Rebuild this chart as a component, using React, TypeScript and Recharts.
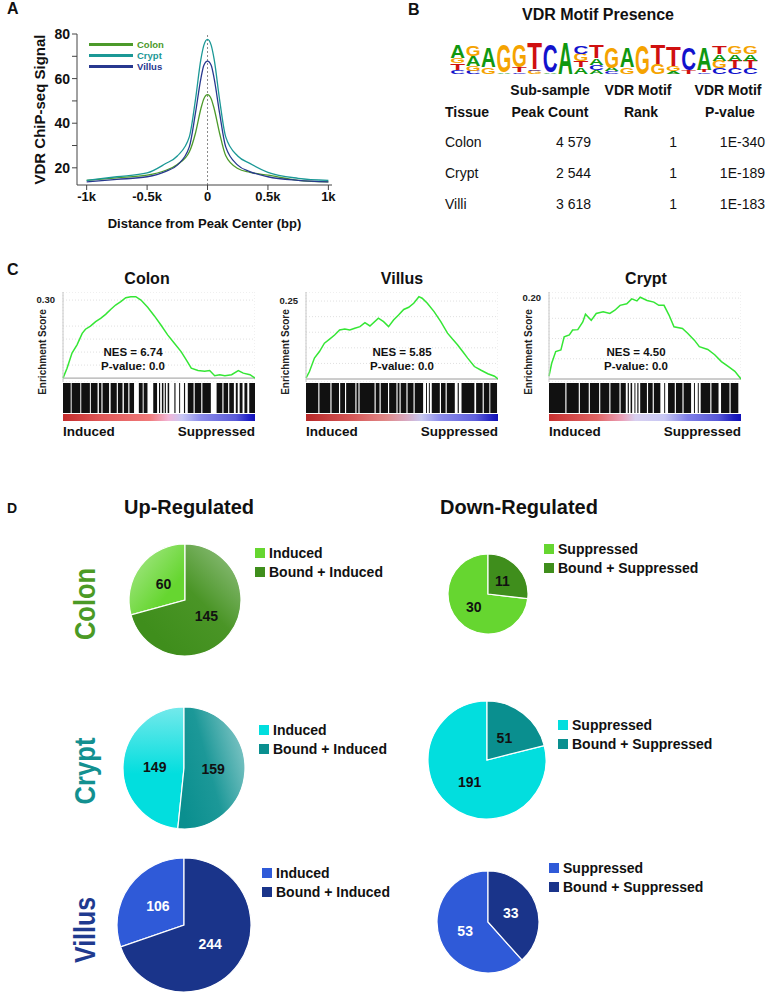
import React from 'react'
import {
  LineChart,
  Line,
  XAxis,
  YAxis,
  CartesianGrid,
  ReferenceLine,
  BarChart,
  Bar,
  PieChart,
  Pie,
  Cell,
} from 'recharts'

const FONT = '"Liberation Sans", Arial, Helvetica, sans-serif'

// ---------- Panel A: VDR ChIP-seq signal around peak centres
const distanceBp = [-1000, -750, -500, -350, -250, -150, -100, -55, -30, 0, 30, 55, 100, 150, 250, 350, 500, 750, 1000]
const colonSignal = [14.4, 15.5, 16.7, 18.8, 21.5, 27.2, 35.5, 46.5, 51, 52.8, 51, 46.5, 35.5, 25.5, 19.7, 18, 16.7, 14.4, 13.7]
const cryptSignal = [14.4, 16.0, 17.7, 21.8, 25.3, 34, 50.5, 68.6, 75, 77.6, 75, 68.6, 50.5, 34, 25.3, 22, 18, 15.3, 14.4]
const villusSignal = [13.7, 14.8, 16, 18.3, 21.2, 29.5, 44.5, 60, 66, 67.8, 66, 60, 44.5, 29.5, 21.2, 18.3, 16, 14.4, 13.7]
const distanceTicks = [-1000, -500, 0, 500, 1000]
const distanceTickLabels = ['-1k', '-0.5k', '0', '0.5k', '1k']
const signalTicks = [20, 30, 40, 50, 60, 70, 80]

const signalSeries = [
  { key: 'colon', name: 'Colon', color: '#4c9a2a' },
  { key: 'crypt', name: 'Crypt', color: '#1b9896' },
  { key: 'villus', name: 'Villus', color: '#27388f' },
]

// ---------- Panel B: motif table
const tissues = ['Colon', 'Crypt', 'Villi']
const peakCounts = ['4 579', '2 544', '3 618']
const motifRanks = ['1', '1', '1']
const motifPvalues = ['1E-340', '1E-189', '1E-183']

// logo columns, letters listed bottom -> top with their share of the column height
const motifColumns: [string, number][][] = [
  [['C', 0.13], ['T', 0.2], ['G', 0.17], ['A', 0.4]],
  [['C', 0.1], ['G', 0.15], ['A', 0.3], ['G', 0.3]],
  [['G', 0.2], ['A', 0.6]],
  [['A', 0.05], ['G', 0.85]],
  [['C', 0.05], ['T', 0.15], ['G', 0.7]],
  [['G', 0.1], ['C', 0.05], ['T', 0.8]],
  [['A', 0.05], ['C', 0.85]],
  [['A', 0.95]],
  [['A', 0.2], ['T', 0.2], ['G', 0.22], ['C', 0.25]],
  [['A', 0.12], ['C', 0.15], ['A', 0.2], ['T', 0.4]],
  [['C', 0.08], ['A', 0.1], ['G', 0.65]],
  [['G', 0.2], ['A', 0.6]],
  [['G', 0.9]],
  [['G', 0.3], ['T', 0.6]],
  [['A', 0.08], ['G', 0.15], ['T', 0.6]],
  [['T', 0.12], ['C', 0.7]],
  [['C', 0.05], ['T', 0.08], ['A', 0.7]],
  [['C', 0.18], ['G', 0.22], ['A', 0.2], ['T', 0.22]],
  [['C', 0.18], ['T', 0.22], ['A', 0.2], ['G', 0.22]],
  [['C', 0.18], ['T', 0.22], ['A', 0.2], ['G', 0.22]],
]
const letterColors: Record<string, string> = { A: '#109810', C: '#1212cc', G: '#f5a300', T: '#d01010' }

// ---------- Panel C: GSEA running enrichment scores (rank position 0..1)
const colonRank = [0, 0.021, 0.047, 0.073, 0.1, 0.117, 0.143, 0.17, 0.196, 0.222, 0.248, 0.274, 0.301, 0.327, 0.353, 0.379, 0.406, 0.441, 0.476, 0.51, 0.545, 0.58, 0.615, 0.642, 0.668, 0.703, 0.738, 0.764, 0.79, 0.816, 0.843, 0.878, 0.913, 0.939, 0.974, 1]
const colonES = [0, 0.038, 0.096, 0.128, 0.172, 0.188, 0.2, 0.217, 0.23, 0.245, 0.264, 0.281, 0.294, 0.309, 0.313, 0.313, 0.3, 0.272, 0.239, 0.204, 0.166, 0.134, 0.102, 0.07, 0.038, 0.029, 0.026, 0.029, 0.009, 0.013, 0.009, 0.013, 0.029, 0.019, 0.013, 0]
const villusRank = [0, 0.018, 0.044, 0.07, 0.096, 0.123, 0.149, 0.175, 0.202, 0.228, 0.254, 0.281, 0.307, 0.333, 0.377, 0.404, 0.43, 0.456, 0.482, 0.509, 0.535, 0.561, 0.588, 0.605, 0.632, 0.667, 0.702, 0.737, 0.763, 0.789, 0.816, 0.842, 0.877, 0.912, 0.947, 0.982, 1]
const villusES = [0.003, 0.024, 0.067, 0.088, 0.115, 0.128, 0.141, 0.157, 0.16, 0.157, 0.163, 0.168, 0.181, 0.17, 0.195, 0.184, 0.168, 0.189, 0.205, 0.223, 0.23, 0.243, 0.264, 0.259, 0.243, 0.216, 0.184, 0.147, 0.128, 0.11, 0.088, 0.067, 0.04, 0.028, 0.017, 0.009, 0]
const cryptRank = [0, 0.014, 0.035, 0.062, 0.079, 0.106, 0.123, 0.15, 0.176, 0.19, 0.22, 0.246, 0.282, 0.317, 0.343, 0.37, 0.405, 0.431, 0.458, 0.475, 0.511, 0.546, 0.572, 0.599, 0.625, 0.651, 0.695, 0.722, 0.757, 0.783, 0.827, 0.863, 0.898, 0.933, 0.968, 1]
const cryptES = [0.007, 0.039, 0.068, 0.072, 0.104, 0.109, 0.121, 0.122, 0.141, 0.16, 0.145, 0.162, 0.166, 0.162, 0.17, 0.182, 0.186, 0.198, 0.193, 0.202, 0.194, 0.19, 0.182, 0.182, 0.158, 0.129, 0.125, 0.113, 0.096, 0.08, 0.073, 0.06, 0.043, 0.031, 0.019, 0]

// gene hit blocks in the barcode strip (rank %, from..to)
const colonHits = [[0, 4], [4.5, 9], [9.5, 14], [14.5, 18], [18.7, 20], [20.6, 24], [24.8, 28], [28.6, 31], [31.7, 34], [34.6, 37], [39.5, 41.5], [42, 44], [47, 49], [50, 50.6], [51.5, 52.3], [53, 53.6], [54.5, 55.3], [58, 58.6], [60.5, 61], [63, 63.6], [65, 68], [68.6, 72], [72.6, 77], [80, 83], [83.6, 86], [86.6, 89], [90, 91], [92, 93.5], [94.5, 96], [97, 100]]
const villusHits = [[0, 6.4], [7, 12.7], [13.3, 17.2], [17.8, 20.3], [20.9, 25.7], [26.3, 27.3], [27.9, 35.7], [36.3, 38.3], [38.9, 42.7], [43.3, 47.1], [47.7, 48.7], [49.3, 52.3], [52.9, 56], [56.6, 61], [62.5, 63], [64, 64.5], [65.5, 69.7], [70.3, 72.7], [73.3, 77.5], [79, 79.6], [81, 87.7], [88.6, 92], [92.6, 95.5], [96, 99.5]]
const cryptHits = [[0, 8.5], [9.1, 15.5], [16.1, 20.7], [21.3, 26.1], [26.7, 31.4], [32, 36.7], [37.3, 40], [41, 41.6], [42.5, 43.3], [44.5, 45], [46, 46.6], [47.5, 51], [51.6, 54], [54.6, 58], [60, 60.5], [62, 65.5], [66.1, 69.5], [70.1, 74], [75.5, 76], [77.5, 78], [79, 84], [84.6, 88.3], [89.6, 94], [94.6, 98.6]]

const gseaGridX = [0.12, 0.24, 0.36, 0.48, 0.6, 0.72, 0.84, 0.96]

// ---------- Panel D: gene counts
const upNames = ['Induced', 'Bound + Induced']
const downNames = ['Suppressed', 'Bound + Suppressed']
const colonUp = [60, 145]
const colonDown = [30, 11]
const cryptUp = [149, 159]
const cryptDown = [191, 51]
const villusUp = [106, 244]
const villusDown = [53, 33]

const colonColors = ['#66d630', '#3f8e1c']
const cryptColors = ['#02dede', '#0a8f8f']
const villusColors = ['#2f5ad8', '#1a348a']

type TxtProps = { x: number; y: number; size: number; bold?: boolean; color?: string; align?: 'left' | 'center' | 'right'; children: React.ReactNode }
const Txt = ({ x, y, size, bold, color = '#111', align = 'left', children }: TxtProps) => (
  <div
    style={{
      position: 'absolute',
      left: x,
      top: y,
      fontSize: size,
      fontWeight: bold ? 700 : 400,
      color,
      lineHeight: 1,
      whiteSpace: 'nowrap',
      transform: `translate(${align === 'center' ? '-50%' : align === 'right' ? '-100%' : '0'}, -50%)`,
    }}
  >
    {children}
  </div>
)

function MotifLogo() {
  const w = 308
  const h = 33
  const colW = w / motifColumns.length
  return (
    <svg width={w} height={64} style={{ position: 'absolute', left: 450, top: 16 }}>
      {motifColumns.map((col, i) => {
        let base = 58
        return col.map(([letter, frac], j) => {
          const lh = frac * h
          const g = (
            <g key={`${i}-${j}`} transform={`translate(${i * colW + 0.3},${base}) scale(${(colW - 0.6) / 72},${lh / 72})`}>
              <text x={0} y={0} fontSize={100} fontWeight={700} fontFamily={FONT} fill={letterColors[letter]} textLength={72} lengthAdjust="spacingAndGlyphs">
                {letter}
              </text>
            </g>
          )
          base -= lh
          return g
        })
      })}
    </svg>
  )
}

// barcode strip: one stacked horizontal bar of alternating gaps and hit blocks
function Barcode({ hits }: { hits: number[][] }) {
  const segs: { len: number; hit: boolean }[] = []
  let cur = 0
  hits.forEach(([a, b]) => {
    segs.push({ len: a - cur, hit: false })
    segs.push({ len: b - a, hit: true })
    cur = b
  })
  const row: Record<string, number | string> = { row: 'hits' }
  segs.forEach((s, i) => {
    row['s' + i] = s.len
  })
  return (
    <BarChart layout="vertical" width={192} height={30} data={[row]} margin={{ top: 0, right: 0, bottom: 0, left: 0 }} barCategoryGap={0}>
      <XAxis type="number" domain={[0, 100]} hide allowDataOverflow />
      <YAxis type="category" dataKey="row" hide />
      {segs.map((s, i) => (
        <Bar key={i} dataKey={'s' + i} stackId="h" fill={s.hit ? '#111111' : 'rgba(0,0,0,0)'} isAnimationActive={false} />
      ))}
    </BarChart>
  )
}

type GseaProps = {
  title: string
  titleX: number
  left: number
  rank: number[]
  es: number[]
  domain: [number, number]
  ticks: number[]
  topLabel: string
  nes: string
  nesX: number
  hits: number[][]
  bar: string
}

function GseaPanel(p: GseaProps) {
  const data = p.rank.map((r, i) => ({ r, es: p.es[i] }))
  const top = p.ticks[p.ticks.length - 1]
  return (
    <>
      <Txt x={p.titleX} y={279} size={16} bold align="center">{p.title}</Txt>
      <div style={{ position: 'absolute', left: p.left - 60, top: 292 }}>
        <LineChart width={252} height={90} data={data} margin={{ top: 0, right: 0, bottom: 0, left: 0 }}>
          <CartesianGrid stroke="#e0e0e0" strokeDasharray="1 2" />
          <XAxis dataKey="r" type="number" domain={[0, 1]} ticks={gseaGridX} tick={false} tickLine={false} height={0} stroke="#c8c8c8" />
          <XAxis xAxisId="top" orientation="top" dataKey="r" type="number" domain={[0, 1]} tick={false} tickLine={false} height={0} stroke="#c8c8c8" />
          <YAxis
            width={60}
            domain={p.domain}
            ticks={p.ticks}
            allowDataOverflow
            tickFormatter={(v: number) => (v === top ? p.topLabel : v === 0 ? '0' : '')}
            tickLine={false}
            tickMargin={2}
            stroke="#c8c8c8"
            tick={{ fontSize: 9.5, fontWeight: 700, fill: '#222' }}
          />
          <YAxis yAxisId="right" orientation="right" width={0} domain={p.domain} allowDataOverflow tick={false} tickLine={false} stroke="#c8c8c8" />
          <ReferenceLine y={0} stroke="#9a9a9a" />
          <Line dataKey="es" type="linear" stroke="#35e635" strokeWidth={1.5} dot={false} isAnimationActive={false} />
        </LineChart>
      </div>
      <div style={{ position: 'absolute', left: p.left, top: 383 }}>
        <Barcode hits={p.hits} />
      </div>
      <div style={{ position: 'absolute', left: p.left, top: 414, width: 192, height: 7, background: p.bar }} />
      <div
        style={{
          position: 'absolute',
          left: p.left - 20,
          top: 352,
          fontSize: 10,
          fontWeight: 700,
          color: '#222',
          whiteSpace: 'nowrap',
          lineHeight: 1,
          transform: 'translate(-50%, -50%) rotate(-90deg)',
        }}
      >
        Enrichment Score
      </div>
      <Txt x={p.nesX} y={353} size={11.5} bold align="center">{p.nes}</Txt>
      <Txt x={p.nesX} y={367} size={11.5} bold align="center">P-value: 0.0</Txt>
      <Txt x={p.left} y={432} size={13.5} bold>Induced</Txt>
      <Txt x={p.left + 192} y={432} size={13.5} bold align="right">Suppressed</Txt>
    </>
  )
}

type PieProps = {
  cx: number
  cy: number
  r: number
  names: string[]
  values: number[]
  colors: string[]
  fills?: string[]
  labelColor: string
  legendX: number
  legendY: number
  gradients?: React.ReactNode
}

function CountPie(p: PieProps) {
  const size = p.r * 2 + 6
  const data = p.names.map((name, i) => ({ name, value: p.values[i] }))
  const RAD = Math.PI / 180
  const renderLabel = (l: any) => {
    const rr = l.outerRadius * 0.48
    const x = l.cx + rr * Math.cos(-l.midAngle * RAD)
    const y = l.cy + rr * Math.sin(-l.midAngle * RAD)
    return (
      <text x={x} y={y} fill={p.labelColor} fontSize={14} fontWeight={700} fontFamily={FONT} textAnchor="middle" dominantBaseline="central">
        {l.value}
      </text>
    )
  }
  return (
    <>
      <div style={{ position: 'absolute', left: p.cx - size / 2, top: p.cy - size / 2 }}>
        <PieChart width={size} height={size} margin={{ top: 0, right: 0, bottom: 0, left: 0 }}>
          {p.gradients}
          <Pie
            data={data}
            dataKey="value"
            cx="50%"
            cy="50%"
            outerRadius={p.r}
            startAngle={90}
            endAngle={450}
            stroke="#ffffff"
            strokeWidth={1.2}
            label={renderLabel}
            labelLine={false}
            isAnimationActive={false}
          >
            {data.map((d, i) => (
              <Cell key={d.name} fill={p.fills ? p.fills[i] : p.colors[i]} />
            ))}
          </Pie>
        </PieChart>
      </div>
      {p.names.map((name, i) => (
        <React.Fragment key={name}>
          <div style={{ position: 'absolute', left: p.legendX, top: p.legendY + i * 19 - 5, width: 10, height: 10, background: p.colors[i] }} />
          <Txt x={p.legendX + 14} y={p.legendY + i * 19} size={14} bold>{name}</Txt>
        </React.Fragment>
      ))}
    </>
  )
}

const TissueLabel = ({ text, cy, length, color }: { text: string; cy: number; length: number; color: string }) => (
  <svg width={40} height={110} style={{ position: 'absolute', left: 62, top: cy - 55 }}>
    <text
      transform={`translate(33,55) rotate(-90)`}
      textAnchor="middle"
      fontSize={30}
      fontWeight={700}
      fontFamily={FONT}
      fill={color}
      textLength={length}
      lengthAdjust="spacingAndGlyphs"
    >
      {text}
    </text>
  </svg>
)

export default function App() {
  const signalData = distanceBp.map((d, i) => ({ d, colon: colonSignal[i], crypt: cryptSignal[i], villus: villusSignal[i] }))

  return (
    <div style={{ position: 'absolute', left: 0, top: 0, width: 767, height: 994, background: '#fff', fontFamily: FONT, overflow: 'hidden' }}>
      {/* A */}
      <Txt x={7} y={9} size={16} bold>A</Txt>
      <div style={{ position: 'absolute', left: 0, top: 0 }}>
        <LineChart width={340} height={235} data={signalData} margin={{ top: 34, right: 8, bottom: 0, left: 0 }}>
          <XAxis
            dataKey="d"
            type="number"
            domain={[-1080, 1030]}
            allowDataOverflow
            ticks={distanceTicks}
            tickFormatter={(v: number) => distanceTickLabels[distanceTicks.indexOf(v)]}
            height={50}
            stroke="#444"
            tickSize={5}
            tick={{ fontSize: 13, fontWeight: 700, fill: '#111' }}
            label={{ value: 'Distance from Peak Center (bp)', position: 'insideBottom', offset: 7, style: { fontSize: 13, fontWeight: 700, fill: '#111' } }}
          />
          <XAxis xAxisId="top" orientation="top" dataKey="d" type="number" domain={[-1080, 1030]} allowDataOverflow height={0} tick={false} tickLine={false} stroke="#444" />
          <YAxis
            width={77}
            domain={[12.3, 80]}
            allowDataOverflow
            ticks={signalTicks}
            tickFormatter={(v: number) => (v % 20 === 0 ? String(v) : '')}
            stroke="#444"
            tickSize={5}
            tick={{ fontSize: 14, fontWeight: 700, fill: '#111' }}
            label={{ value: 'VDR ChiP-seq Signal', angle: -90, position: 'insideLeft', offset: 40, style: { textAnchor: 'middle', fontSize: 15, fontWeight: 700, fill: '#111' } }}
          />
          <ReferenceLine x={0} stroke="#8a8a8a" strokeDasharray="2 2" />
          {signalSeries.map((s) => (
            <Line key={s.key} dataKey={s.key} name={s.name} type="monotone" stroke={s.color} strokeWidth={1.3} dot={false} isAnimationActive={false} />
          ))}
        </LineChart>
      </div>
      {signalSeries.map((s, i) => (
        <React.Fragment key={s.key}>
          <div style={{ position: 'absolute', left: 89, top: 43 + i * 11, width: 44, height: 3, background: s.color }} />
          <Txt x={137} y={44.5 + i * 11} size={9.5} bold color={s.color}>{s.name}</Txt>
        </React.Fragment>
      ))}

      {/* B */}
      <Txt x={408} y={10} size={16} bold>B</Txt>
      <Txt x={598} y={15} size={16} bold align="center">VDR Motif Presence</Txt>
      <MotifLogo />
      <Txt x={550} y={90} size={14} bold align="center">Sub-sample</Txt>
      <Txt x={550} y={112} size={14} bold align="center">Peak Count</Txt>
      <Txt x={638} y={90} size={14} bold align="center">VDR Motif</Txt>
      <Txt x={641} y={112} size={14} bold align="center">Rank</Txt>
      <Txt x={728} y={90} size={14} bold align="center">VDR Motif</Txt>
      <Txt x={730} y={112} size={14} bold align="center">P-value</Txt>
      <Txt x={445} y={112} size={14} bold>Tissue</Txt>
      {tissues.map((t, i) => (
        <React.Fragment key={t}>
          <Txt x={445} y={142 + i * 31} size={14}>{t}</Txt>
          <Txt x={591} y={142 + i * 31} size={14} align="right">{peakCounts[i]}</Txt>
          <Txt x={677} y={142 + i * 31} size={14} align="right">{motifRanks[i]}</Txt>
          <Txt x={765} y={142 + i * 31} size={14} align="right">{motifPvalues[i]}</Txt>
        </React.Fragment>
      ))}

      {/* C */}
      <Txt x={7} y={270} size={16} bold>C</Txt>
      <GseaPanel
        title="Colon"
        titleX={147}
        left={63}
        rank={colonRank}
        es={colonES}
        domain={[-0.015, 0.331]}
        ticks={[0, 0.05, 0.1, 0.15, 0.2, 0.25, 0.3]}
        topLabel="0.30"
        nes="NES = 6.74"
        nesX={133}
        hits={colonHits}
        bar="linear-gradient(to right, #c42c2c 0%, #e05858 20%, #f07a7a 45%, #f2b6d8 55%, #c8c8f4 62%, #8a8aea 72%, #5a5ad8 90%, #2020c8 97%, #1010b8 100%)"
      />
      <GseaPanel
        title="Villus"
        titleX={402}
        left={306}
        rank={villusRank}
        es={villusES}
        domain={[-0.0096, 0.279]}
        ticks={[0, 0.05, 0.1, 0.15, 0.2, 0.25]}
        topLabel="0.25"
        nes="NES = 5.85"
        nesX={402}
        hits={villusHits}
        bar="linear-gradient(to right, #b82828 0%, #d85a5a 25%, #e08a8a 42%, #d8a8c0 52%, #c8c8f0 60%, #8c8cec 70%, #6060dc 88%, #2020c0 97%, #1010b8 100%)"
      />
      <GseaPanel
        title="Crypt"
        titleX={646}
        left={549}
        rank={cryptRank}
        es={cryptES}
        domain={[-0.0074, 0.215]}
        ticks={[0, 0.05, 0.1, 0.15, 0.2]}
        topLabel="0.20"
        nes="NES = 4.50"
        nesX={636}
        hits={cryptHits}
        bar="linear-gradient(to right, #c83030 0%, #e06464 25%, #eba0b8 38%, #d8d0f0 45%, #c8c8f4 60%, #8080e8 72%, #5858d8 88%, #2020c0 96%, #1010b8 100%)"
      />

      {/* D */}
      <Txt x={7} y={508} size={14} bold>D</Txt>
      <Txt x={189} y={507} size={20} bold align="center">Up-Regulated</Txt>
      <Txt x={519} y={507} size={20} bold align="center">Down-Regulated</Txt>

      <TissueLabel text="Colon" cy={604} length={72} color="#4b9a25" />
      <TissueLabel text="Crypt" cy={771} length={67} color="#139090" />
      <TissueLabel text="Villus" cy={930} length={66} color="#1f3a8f" />

      <CountPie
        cx={185}
        cy={600}
        r={56}
        names={upNames}
        values={colonUp}
        colors={colonColors}
        fills={['url(#cuA)', 'url(#cuB)']}
        labelColor="#111"
        legendX={255}
        legendY={553}
        gradients={
          <defs>
            <linearGradient id="cuA" x1="0" y1="0" x2="1" y2="1">
              <stop offset="0%" stopColor="#aee994" />
              <stop offset="70%" stopColor="#66d630" />
            </linearGradient>
            <linearGradient id="cuB" x1="0.2" y1="0.8" x2="1" y2="0">
              <stop offset="0%" stopColor="#3f8e1c" />
              <stop offset="45%" stopColor="#4a9526" />
              <stop offset="100%" stopColor="#97c488" />
            </linearGradient>
          </defs>
        }
      />
      <CountPie cx={488} cy={594} r={40} names={downNames} values={colonDown} colors={colonColors} labelColor="#111" legendX={544} legendY={549} />

      <CountPie
        cx={184}
        cy={768}
        r={61}
        names={upNames}
        values={cryptUp}
        colors={cryptColors}
        fills={['url(#kuA)', 'url(#kuB)']}
        labelColor="#111"
        legendX={259}
        legendY={730}
        gradients={
          <defs>
            <linearGradient id="kuA" x1="0" y1="0" x2="0" y2="1">
              <stop offset="0%" stopColor="#74e9eb" />
              <stop offset="55%" stopColor="#02dede" />
            </linearGradient>
            <linearGradient id="kuB" x1="0" y1="0.7" x2="1" y2="0.2">
              <stop offset="0%" stopColor="#0a8f8f" />
              <stop offset="45%" stopColor="#1c9898" />
              <stop offset="100%" stopColor="#86c8c8" />
            </linearGradient>
          </defs>
        }
      />
      <CountPie cx={487} cy={760} r={59} names={downNames} values={cryptDown} colors={cryptColors} labelColor="#111" legendX={558} legendY={725} />

      <CountPie cx={184} cy={925} r={67} names={upNames} values={villusUp} colors={villusColors} labelColor="#ffffff" legendX={262} legendY={873} />
      <CountPie cx={488} cy={922} r={51} names={downNames} values={villusDown} colors={villusColors} labelColor="#ffffff" legendX={549} legendY={868} />
    </div>
  )
}
